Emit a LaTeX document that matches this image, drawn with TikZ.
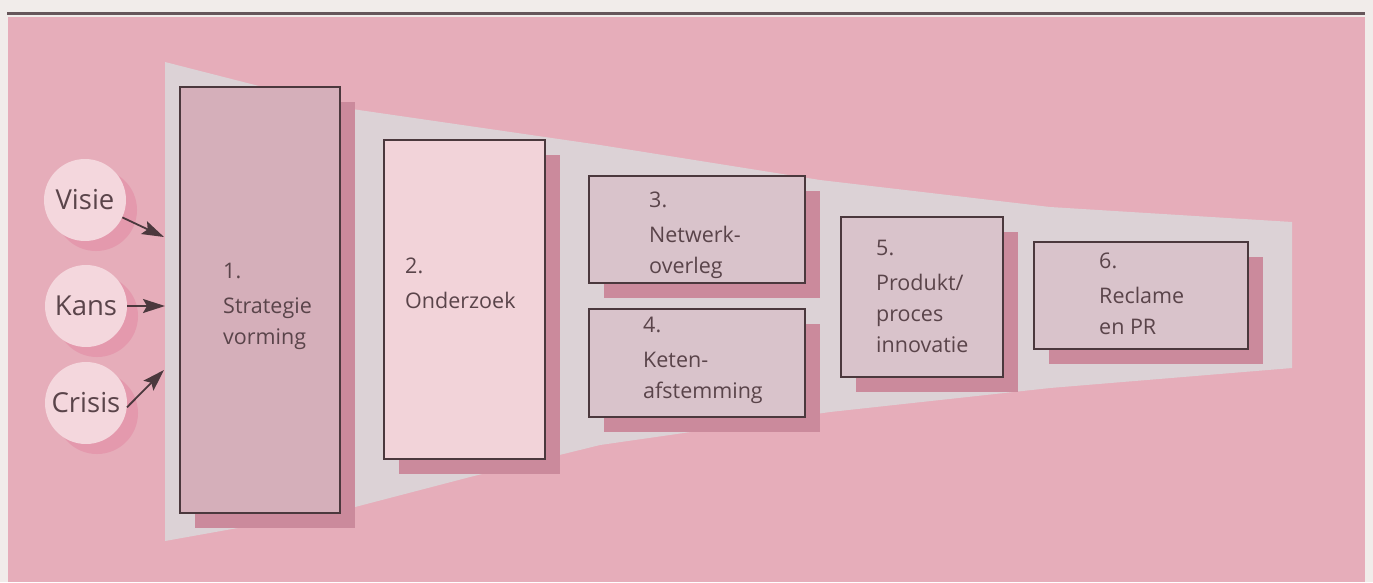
\documentclass[tikz,border=0pt]{standalone}
\usepackage{fontspec}
\setmainfont{Open Sans}
\usetikzlibrary{shadows,arrows.meta}
\definecolor{pagec}{HTML}{F1ECEA}
\definecolor{pinkc}{HTML}{E6ADBA}
\definecolor{funnelc}{HTML}{DCD2D6}
\definecolor{linec}{HTML}{4B383D}
\definecolor{textc}{HTML}{5A444A}
\definecolor{boxa}{HTML}{D5AFBA}
\definecolor{boxb}{HTML}{F2D3D9}
\definecolor{boxc}{HTML}{D9C3CB}
\definecolor{shadowc}{HTML}{CB8A9C}
\definecolor{circc}{HTML}{F4D7DD}
\definecolor{circsh}{HTML}{E499AD}
\begin{document}
\begin{tikzpicture}[x=1pt,y=-1pt,
  stepbox/.style={rectangle, draw=linec, line width=1.6pt, inner sep=0pt,
    drop shadow={shadow xshift=15pt, shadow yshift=-15pt, fill=shadowc, opacity=1}},
  lbl/.style={inner sep=0pt, anchor=north west, align=left, text=textc,
    font=\fontsize{21.5}{31}\selectfont},
  bubble/.style={circle, fill=circc, inner sep=0pt, minimum size=82pt, text=textc,
    font=\fontsize{27.5}{33}\selectfont,
    drop shadow={shadow xshift=11pt, shadow yshift=-10pt, fill=circsh, opacity=1}},
  arr/.style={draw=linec, line width=1.8pt, -{Stealth[length=22pt,width=14pt,inset=4pt]}}
]
\useasboundingbox (0,0) rectangle (1373,582);
\fill[pagec] (0,0) rectangle (1373,582);
\fill[pinkc] (8,17) rectangle (1365,582);
\draw[linec!85, line width=3pt] (7,13) -- (1365,13);
% funnel
\fill[funnelc] (165,62) -- (345,108) -- (600,145) -- (820,180) -- (1050,207) -- (1292,222)
  -- (1292,368) -- (1050,388) -- (830,412) -- (600,445) -- (470,477) -- (355,507) -- (165,541) -- cycle;
% boxes
\node[stepbox, fill=boxa, minimum width=160pt, minimum height=426pt] (b1) at (260,300) {};
\node[stepbox, fill=boxb, minimum width=161pt, minimum height=319pt] (b2) at (464.5,299.5) {};
\node[stepbox, fill=boxc, minimum width=216pt, minimum height=107pt] (b3) at (697,229.5) {};
\node[stepbox, fill=boxc, minimum width=216pt, minimum height=108pt] (b4) at (697,363) {};
\node[stepbox, fill=boxc, minimum width=162pt, minimum height=160pt] (b5) at (922,297) {};
\node[stepbox, fill=boxc, minimum width=214pt, minimum height=107pt] (b6) at (1141,295.5) {};
% labels
\node[lbl] (t1) at (223,263) {1.\\[4pt]Strategie\\vorming};
\node[lbl] (t2) at (405,258) {2.\\[4pt]Onderzoek};
\node[lbl] (t3) at (649,192) {3.\\[4pt]Netwerk-\\overleg};
\node[lbl] (t4) at (643,317) {4.\\[4pt]Keten-\\afstemming};
\node[lbl] (t5) at (876,240) {5.\\[4pt]Produkt/\\proces\\innovatie};
\node[lbl] (t6) at (1099,253) {6.\\[4pt]Reclame\\en PR};
% bubbles
\node[bubble] (c1) at (85,200) {Visie};
\node[bubble] (c2) at (86,306) {Kans};
\node[bubble] (c3) at (86,403) {Crisis};
\coordinate (a1) at (164,237);
\coordinate (a2) at (165,306);
\coordinate (a3) at (164,370);
\draw[arr] (c1.-25) -- (a1);
\draw[arr] (c2.east) -- (a2);
\draw[arr] (c3.-6) -- (a3);
\end{tikzpicture}
\end{document}
